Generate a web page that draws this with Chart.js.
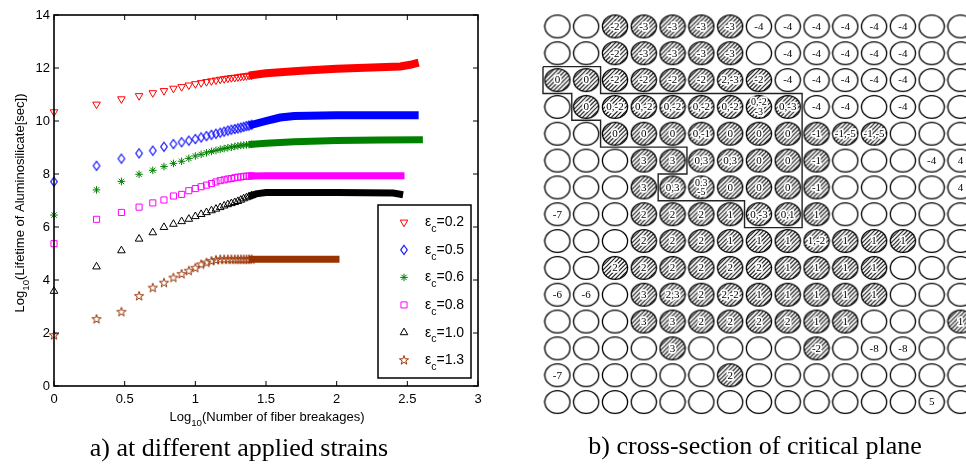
<!DOCTYPE html>
<html>
<head>
<meta charset="utf-8">
<script src="https://cdn.jsdelivr.net/npm/chart.js"></script>
<style>
html, body { margin: 0; padding: 0; overflow: hidden; background: #fff; }
body { width: 966px; height: 465px; position: relative; }
#left { position: absolute; left: 0; top: 0; width: 506px; height: 465px; }
#right { position: absolute; left: 530px; top: 0; width: 458px; height: 465px; }
</style>
</head>
<body>
<div id="left"><canvas id="lifetime-chart"></canvas></div>
<div id="right"><canvas id="plane-chart"></canvas></div>
<script>
// log10 of breakage count, n = 1..25 (markers that still stand apart)
const logBreaks = [0, 0.301, 0.477, 0.602, 0.699, 0.778, 0.845, 0.903, 0.954, 1, 1.041, 1.079, 1.114, 1.146, 1.176, 1.204,
	1.230, 1.255, 1.279, 1.301, 1.322, 1.342, 1.362, 1.380, 1.398]
const strainLabels = ['0.2', '0.5', '0.6', '0.8', '1.0', '1.3']

const life02 = [10.34, 10.63, 10.83, 10.95, 11.06, 11.14, 11.23, 11.29, 11.35, 11.40, 11.44, 11.48, 11.51, 11.54, 11.57, 11.59,
	11.61, 11.63, 11.64, 11.66, 11.68, 11.69, 11.70, 11.72, 11.73]
const life05 = [7.71, 8.31, 8.58, 8.78, 8.88, 9.03, 9.13, 9.20, 9.26, 9.32, 9.38, 9.43, 9.48, 9.52, 9.56, 9.60,
	9.64, 9.67, 9.70, 9.72, 9.75, 9.78, 9.81, 9.83, 9.86]
const life06 = [6.45, 7.40, 7.72, 7.99, 8.14, 8.28, 8.40, 8.48, 8.59, 8.68, 8.74, 8.80, 8.85, 8.89, 8.93, 8.96,
	8.99, 9.01, 9.04, 9.06, 9.08, 9.09, 9.10, 9.11, 9.12]
const life08 = [5.37, 6.29, 6.55, 6.75, 6.91, 7.02, 7.17, 7.23, 7.37, 7.45, 7.52, 7.58, 7.64, 7.70, 7.75, 7.78,
	7.81, 7.83, 7.86, 7.88, 7.89, 7.91, 7.92, 7.92, 7.93]
const life10 = [3.58, 4.50, 5.11, 5.55, 5.79, 5.99, 6.11, 6.21, 6.30, 6.40, 6.48, 6.55, 6.62, 6.68, 6.74, 6.80,
	6.85, 6.89, 6.93, 6.97, 7.02, 7.07, 7.11, 7.15, 7.19]
const life13 = [1.92, 2.53, 2.80, 3.40, 3.71, 3.90, 4.09, 4.23, 4.35, 4.46, 4.59, 4.66, 4.72, 4.76, 4.78, 4.78,
	4.78, 4.78, 4.78, 4.78, 4.78, 4.78, 4.78, 4.78, 4.78]

// dense part (markers merge into a band)
const dense02X = [1.38, 1.5, 1.75, 2.0, 2.25, 2.45, 2.52, 2.58]
const dense02Y = [11.72, 11.8, 11.9, 11.97, 12.02, 12.06, 12.12, 12.2]
const dense05X = [1.38, 1.5, 1.6, 1.7, 2.0, 2.58]
const dense05Y = [9.83, 10.0, 10.13, 10.19, 10.22, 10.22]
const dense06X = [1.38, 1.5, 1.7, 2.0, 2.3, 2.61]
const dense06Y = [9.11, 9.16, 9.22, 9.26, 9.28, 9.29]
const dense08X = [1.38, 1.5, 2.0, 2.48]
const dense08Y = [7.92, 7.93, 7.93, 7.93]
const dense10X = [1.38, 1.43, 1.5, 1.6, 2.0, 2.4, 2.47]
const dense10Y = [7.15, 7.25, 7.3, 7.3, 7.3, 7.28, 7.22]
const dense13X = [1.38, 1.5, 2.02]
const dense13Y = [4.78, 4.78, 4.78]

// cross-section: '' empty fiber, '*' = hatched, '|' = second text line
const planeRows = [
	['', '', '*-2', '*-3', '*-3', '*-3', '*-3', '-4', '-4', '-4', '-4', '-4', '-4', '', ''],
	['', '', '*-2', '*-3', '*-3', '*-3', '*-3', '', '-4', '-4', '-4', '-4', '-4', '', ''],
	['*0', '*0', '*-2', '*-2', '*-2', '*-2', '*2,-3', '*-2', '-4', '-4', '-4', '-4', '-4', '', ''],
	['', '*0', '*0,-2', '*0,-2', '*0,-2', '*0,-2', '*0,-2', '*0,-2|-3', '*0,-3', '-4', '-4', '', '-4', '', ''],
	['', '', '*0', '*0', '*0', '*0,-1', '*0', '*0', '*0', '*-1', '*-1,-5', '*-1,-5', '', '', ''],
	['', '', '', '*3', '*3', '*0,3', '*0,3', '*0', '*0', '*-1', '', '', '', '-4', '4'],
	['', '', '', '*3', '*0,3', '*0,3|-5', '*0', '*0', '*0', '*-1', '', '', '', '', '4'],
	['-7', '', '', '*2', '*2', '*2', '*1', '*0,-3', '*0,1', '*1', '', '', '', '', ''],
	['', '', '', '*2', '*2', '*2', '*1', '*1', '*1', '*1,-2', '*1', '*1', '*1', '', ''],
	['', '', '*2', '*2', '*2', '*2', '*2', '*2', '*1', '*1', '*1', '*1', '', '', ''],
	['-6', '-6', '', '*3', '*2,3', '*2', '*2,-2', '*1', '*1', '*1', '*1', '*1', '', '', ''],
	['', '', '', '*3', '*3', '*2', '*2', '*2', '*2', '*1', '*1', '', '', '', '*1'],
	['', '', '', '', '*3', '', '', '', '', '*-2', '', '-8', '-8', '', ''],
	['-7', '', '', '', '', '', '*2', '', '', '', '', '', '', '', ''],
	['', '', '', '', '', '', '', '', '', '', '', '', '', '5', '']
]
const boxCols = [-0.5, 1.5, 1.5, 8.5, 8.5, 6.5, 6.5, 3.5, 3.5, 4.5, 4.5, 1.5, 1.5, 0.5, 0.5, -0.5, -0.5]
const boxRows = [1.5, 1.5, 2.5, 2.5, 7.5, 7.5, 6.5, 6.5, 5.5, 5.5, 4.5, 4.5, 3.5, 3.5, 2.5, 2.5, 1.5]

const SANS = '"Liberation Sans", Arial, sans-serif',
	SERIF = '"Liberation Serif", "Times New Roman", serif'

function makeStar(color) {
	const c = document.createElement('canvas')
	c.width = 12
	c.height = 12
	const g = c.getContext('2d')
	g.beginPath()
	for (let i = 0; i < 10; i++) {
		const r = i % 2 ? 1.9 : 4.8,
			a = -Math.PI / 2 + (i * Math.PI) / 5
		g.lineTo(6 + r * Math.cos(a), 6.3 + r * Math.sin(a))
	}
	g.closePath()
	g.strokeStyle = color
	g.lineWidth = 1
	g.stroke()
	return c
}

function makeDiamond(color) {
	const c = document.createElement('canvas')
	c.width = 10
	c.height = 12
	const g = c.getContext('2d')
	g.beginPath()
	g.moveTo(5, 1.5); g.lineTo(8.3, 6); g.lineTo(5, 10.5); g.lineTo(1.7, 6)
	g.closePath()
	g.strokeStyle = color
	g.lineWidth = 1.1
	g.stroke()
	return c
}

const series = [
	{ y: life02, dx: dense02X, dy: dense02Y, color: '#ff0000', pointStyle: 'triangle', rotation: 180, radius: 4.4, band: 8 },
	{ y: life05, dx: dense05X, dy: dense05Y, color: '#0000ff', pointStyle: makeDiamond('#0000ff'), rotation: 0, radius: 4.4, band: 8 },
	{ y: life06, dx: dense06X, dy: dense06Y, color: '#008000', pointStyle: 'star', rotation: 0, radius: 3.8, band: 7 },
	{ y: life08, dx: dense08X, dy: dense08Y, color: '#ff00ff', pointStyle: 'rect', rotation: 0, radius: 4.3, band: 7 },
	{ y: life10, dx: dense10X, dy: dense10Y, color: '#000000', pointStyle: 'triangle', rotation: 0, radius: 4.4, band: 7 },
	{ y: life13, dx: dense13X, dy: dense13Y, color: '#993300', pointStyle: makeStar('#993300'), rotation: 0, radius: 4.5, band: 7 }
]

function drawRich(ctx, parts, x, y, size, align) {
	const sub = size * 0.75
	let total = 0
	const widths = parts.map(([t, s]) => {
		ctx.font = `${s ? sub : size}px ${SANS}`
		const w = ctx.measureText(t).width
		total += w
		return w
	})
	let cx = align === 'center' ? x - total / 2 : x
	ctx.textAlign = 'left'
	ctx.textBaseline = 'alphabetic'
	parts.forEach(([t, s], i) => {
		ctx.font = `${s ? sub : size}px ${SANS}`
		ctx.fillText(t, cx, s ? y + size * 0.42 : y)
		cx += widths[i]
	})
}

const matlabFrame = {
	id: 'matlabFrame',
	afterDraw(chart) {
		const { ctx, chartArea: a, scales } = chart,
			tl = 5
		ctx.save()
		ctx.strokeStyle = '#000'
		ctx.lineWidth = 1
		ctx.beginPath()
		scales.x.ticks.forEach((t) => {
			const px = scales.x.getPixelForValue(t.value)
			ctx.moveTo(px, a.bottom); ctx.lineTo(px, a.bottom - tl)
			ctx.moveTo(px, a.top); ctx.lineTo(px, a.top + tl)
		})
		scales.y.ticks.forEach((t) => {
			const py = scales.y.getPixelForValue(t.value)
			ctx.moveTo(a.left, py); ctx.lineTo(a.left + tl, py)
			ctx.moveTo(a.right, py); ctx.lineTo(a.right - tl, py)
		})
		ctx.stroke()
		ctx.lineWidth = 1.6
		ctx.strokeRect(a.left, a.top, a.right - a.left, a.bottom - a.top)

		// axis titles
		ctx.fillStyle = '#000'
		drawRich(ctx, [['Log', false], ['10', true], ['(Number of fiber breakages)', false]], (a.left + a.right) / 2 + 1, 421, 13, 'center')
		ctx.save()
		ctx.translate(24, 203)
		ctx.rotate(-Math.PI / 2)
		drawRich(ctx, [['Log', false], ['10', true], ['(Lifetime of Aluminosilicate[sec])', false]], 0, 0, 13, 'center')
		ctx.restore()

		// legend
		const lx = 378, ly = 205, lw = 93, lh = 173
		ctx.fillStyle = '#fff'
		ctx.fillRect(lx, ly, lw, lh)
		ctx.lineWidth = 1.5
		ctx.strokeStyle = '#000'
		ctx.strokeRect(lx, ly, lw, lh)
		series.forEach((s, i) => {
			const ry = 222.3 + i * 27.55
			ctx.strokeStyle = s.color
			ctx.fillStyle = 'rgba(0,0,0,0)'
			ctx.lineWidth = 1
			Chart.helpers.drawPoint(ctx, { pointStyle: s.pointStyle, rotation: s.rotation, radius: s.radius, borderWidth: 1 }, 404, ry)
			ctx.fillStyle = '#000'
			drawRich(ctx, [['\u03b5', false], ['c', true], ['=' + strainLabels[i], false]], 425, ry + 4, 14, 'left')
		})
		ctx.restore()
	},
}

const leftDatasets = []
series.forEach((s, i) => {
	leftDatasets.push({
		label: '\u03b5c=' + strainLabels[i],
		data: logBreaks.map((x, j) => ({ x, y: s.y[j] })),
		showLine: false,
		pointStyle: s.pointStyle,
		rotation: s.rotation,
		pointRadius: s.radius,
		borderColor: s.color,
		backgroundColor: 'rgba(0,0,0,0)',
		pointBorderWidth: 1,
		clip: false,
	})
	leftDatasets.push({
		label: 'dense ' + strainLabels[i],
		data: s.dx.map((x, j) => ({ x, y: s.dy[j] })),
		showLine: true,
		pointRadius: 0,
		borderColor: s.color,
		borderWidth: s.band,
		borderCapStyle: 'butt',
		tension: 0,
		clip: false,
	})
})

new Chart(document.getElementById('lifetime-chart'), {
	type: 'scatter',
	data: { datasets: leftDatasets },
	options: {
		responsive: true,
		maintainAspectRatio: false,
		animation: false,
		events: [],
		layout: { padding: { left: 0, right: 28, top: 15, bottom: 0 } },
		plugins: {
			legend: { display: false },
			tooltip: { enabled: false },
			title: {
				display: true,
				position: 'bottom',
				text: 'a) at different applied strains',
				color: '#000',
				font: { family: SERIF, size: 26, weight: 'normal' },
				padding: { top: 7.8, bottom: 0 },
			},
		},
		scales: {
			x: {
				type: 'linear',
				min: 0,
				max: 3,
				grid: { display: false, drawTicks: false },
				border: { display: false },
				ticks: { stepSize: 0.5, padding: 6, color: '#000', font: { family: SANS, size: 13 }, callback: (v) => String(v) },
				afterFit: (s) => { s.height = 40 },
			},
			y: {
				min: 0,
				max: 14,
				grid: { display: false, drawTicks: false },
				border: { display: false },
				ticks: { stepSize: 2, padding: 4, color: '#000', font: { family: SANS, size: 13 } },
				afterFit: (s) => { s.width = 54 },
			},
		},
	},
	plugins: [matlabFrame],
})

// fiber cells for the cross-section
function makeCell(hatched) {
	const c = document.createElement('canvas')
	c.width = 28
	c.height = 26
	const g = c.getContext('2d')
	const outline = () => { g.beginPath(); g.ellipse(14, 13, 12.6, 11.4, 0, 0, Math.PI * 2) }
	outline()
	g.fillStyle = '#fff'
	g.fill()
	if (hatched) {
		g.save()
		outline()
		g.clip()
		g.strokeStyle = '#111'
		g.lineWidth = 1.1
		for (let k = -30; k < 40; k += 4.2) {
			g.beginPath()
			g.moveTo(k, 26)
			g.lineTo(k + 26, 0)
			g.stroke()
		}
		g.restore()
	}
	outline()
	g.strokeStyle = '#000'
	g.lineWidth = 1.3
	g.stroke()
	return c
}
const plainCell = makeCell(false),
	hatchCell = makeCell(true)

const cells = []
planeRows.forEach((row, r) => row.forEach((code, c) => cells.push({ x: c, y: r, code })))

const cellText = {
	id: 'cellText',
	afterDatasetsDraw(chart) {
		const { ctx } = chart,
			pts = chart.getDatasetMeta(0).data
		ctx.save()
		ctx.textAlign = 'center'
		ctx.textBaseline = 'middle'
		ctx.lineJoin = 'round'
		cells.forEach((cell, i) => {
			const hatched = cell.code.startsWith('*'),
				text = hatched ? cell.code.slice(1) : cell.code
			if (!text) return
			const lines = text.split('|'),
				size = lines.length > 1 ? 10 : 11,
				p = pts[i]
			ctx.font = `${size}px ${SERIF}`
			lines.forEach((t, k) => {
				const ty = lines.length > 1 ? p.y - 4.5 + k * 9.5 : p.y + 0.5
				if (hatched) {
					ctx.strokeStyle = '#fff'
					ctx.lineWidth = 3.5
					ctx.strokeText(t, p.x, ty)
				}
				ctx.fillStyle = '#000'
				ctx.fillText(t, p.x, ty)
			})
		})
		ctx.restore()
	},
}

new Chart(document.getElementById('plane-chart'), {
	type: 'scatter',
	data: {
		datasets: [
			{
				label: 'fibers',
				data: cells.map(({ x, y }) => ({ x, y })),
				pointStyle: (ctx) => (cells[ctx.dataIndex] && cells[ctx.dataIndex].code.startsWith('*') ? hatchCell : plainCell),
				pointRadius: 12,
				clip: false,
			},
			{
				label: 'region',
				data: boxCols.map((x, i) => ({ x, y: boxRows[i] })),
				showLine: true,
				pointRadius: 0,
				borderColor: '#222',
				borderWidth: 1.4,
				tension: 0,
				clip: false,
			},
		],
	},
	options: {
		responsive: true,
		maintainAspectRatio: false,
		animation: false,
		events: [],
		layout: { padding: { left: 5.35, right: 13.15, top: 2.75, bottom: 0 } },
		plugins: {
			legend: { display: false },
			tooltip: { enabled: false },
			title: {
				display: true,
				position: 'bottom',
				text: 'b) cross-section of critical plane',
				color: '#000',
				font: { family: SERIF, size: 26, weight: 'normal' },
				padding: { top: 15.95, bottom: 2.4 },
			},
		},
		scales: {
			x: { type: 'linear', min: -0.5, max: 14.5, display: false },
			y: { type: 'linear', min: -0.5, max: 14.5, reverse: true, display: false },
		},
	},
	plugins: [cellText],
})
</script>
</body>
</html>
